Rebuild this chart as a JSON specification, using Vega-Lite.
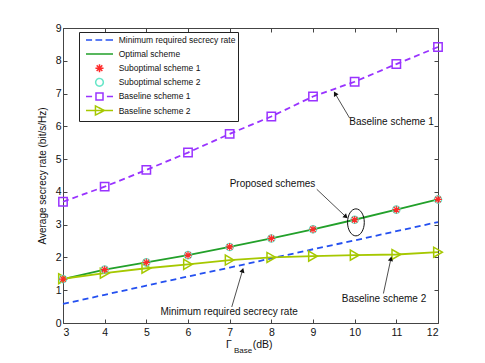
{
  "$schema": "https://vega.github.io/schema/vega-lite/v6.json",
  "width": 375,
  "height": 295,
  "autosize": {"type": "none"},
  "padding": {"left": 63, "top": 28, "right": 47, "bottom": 40},
  "background": "white",
  "config": {
    "view": {"stroke": null},
    "font": "Liberation Sans",
    "axis": {
      "domainColor": "#444",
      "tickColor": "#444",
      "tickSize": -4,
      "labelFont": "Liberation Sans",
      "labelFontSize": 10.5,
      "labelColor": "#111",
      "titleFont": "Liberation Sans",
      "titleFontSize": 10,
      "titleFontWeight": "normal",
      "titleColor": "#111",
      "grid": false
    }
  },
  "datasets": {
    "main": [
      {"x": 3, "series": "Minimum required secrecy rate", "y": 0.58},
      {"x": 4, "series": "Minimum required secrecy rate", "y": 0.86},
      {"x": 5, "series": "Minimum required secrecy rate", "y": 1.14},
      {"x": 6, "series": "Minimum required secrecy rate", "y": 1.42},
      {"x": 7, "series": "Minimum required secrecy rate", "y": 1.69},
      {"x": 8, "series": "Minimum required secrecy rate", "y": 1.97},
      {"x": 9, "series": "Minimum required secrecy rate", "y": 2.25},
      {"x": 10, "series": "Minimum required secrecy rate", "y": 2.52},
      {"x": 11, "series": "Minimum required secrecy rate", "y": 2.8},
      {"x": 12, "series": "Minimum required secrecy rate", "y": 3.08},
      {"x": 3, "series": "Optimal scheme", "y": 1.34},
      {"x": 4, "series": "Optimal scheme", "y": 1.63},
      {"x": 5, "series": "Optimal scheme", "y": 1.85},
      {"x": 6, "series": "Optimal scheme", "y": 2.07},
      {"x": 7, "series": "Optimal scheme", "y": 2.32},
      {"x": 8, "series": "Optimal scheme", "y": 2.58},
      {"x": 9, "series": "Optimal scheme", "y": 2.86},
      {"x": 10, "series": "Optimal scheme", "y": 3.15},
      {"x": 11, "series": "Optimal scheme", "y": 3.46},
      {"x": 12, "series": "Optimal scheme", "y": 3.77},
      {"x": 3, "series": "Suboptimal scheme 1", "y": 1.34},
      {"x": 4, "series": "Suboptimal scheme 1", "y": 1.63},
      {"x": 5, "series": "Suboptimal scheme 1", "y": 1.85},
      {"x": 6, "series": "Suboptimal scheme 1", "y": 2.07},
      {"x": 7, "series": "Suboptimal scheme 1", "y": 2.32},
      {"x": 8, "series": "Suboptimal scheme 1", "y": 2.58},
      {"x": 9, "series": "Suboptimal scheme 1", "y": 2.86},
      {"x": 10, "series": "Suboptimal scheme 1", "y": 3.15},
      {"x": 11, "series": "Suboptimal scheme 1", "y": 3.46},
      {"x": 12, "series": "Suboptimal scheme 1", "y": 3.77},
      {"x": 3, "series": "Suboptimal scheme 2", "y": 1.34},
      {"x": 4, "series": "Suboptimal scheme 2", "y": 1.63},
      {"x": 5, "series": "Suboptimal scheme 2", "y": 1.85},
      {"x": 6, "series": "Suboptimal scheme 2", "y": 2.07},
      {"x": 7, "series": "Suboptimal scheme 2", "y": 2.32},
      {"x": 8, "series": "Suboptimal scheme 2", "y": 2.58},
      {"x": 9, "series": "Suboptimal scheme 2", "y": 2.86},
      {"x": 10, "series": "Suboptimal scheme 2", "y": 3.15},
      {"x": 11, "series": "Suboptimal scheme 2", "y": 3.46},
      {"x": 12, "series": "Suboptimal scheme 2", "y": 3.77},
      {"x": 3, "series": "Baseline scheme 1", "y": 3.7},
      {"x": 4, "series": "Baseline scheme 1", "y": 4.16},
      {"x": 5, "series": "Baseline scheme 1", "y": 4.67},
      {"x": 6, "series": "Baseline scheme 1", "y": 5.2},
      {"x": 7, "series": "Baseline scheme 1", "y": 5.77},
      {"x": 8, "series": "Baseline scheme 1", "y": 6.3},
      {"x": 9, "series": "Baseline scheme 1", "y": 6.91},
      {"x": 10, "series": "Baseline scheme 1", "y": 7.36},
      {"x": 11, "series": "Baseline scheme 1", "y": 7.9},
      {"x": 12, "series": "Baseline scheme 1", "y": 8.42},
      {"x": 3, "series": "Baseline scheme 2", "y": 1.35},
      {"x": 4, "series": "Baseline scheme 2", "y": 1.52},
      {"x": 5, "series": "Baseline scheme 2", "y": 1.67},
      {"x": 6, "series": "Baseline scheme 2", "y": 1.79},
      {"x": 7, "series": "Baseline scheme 2", "y": 1.92},
      {"x": 8, "series": "Baseline scheme 2", "y": 2.0},
      {"x": 9, "series": "Baseline scheme 2", "y": 2.04},
      {"x": 10, "series": "Baseline scheme 2", "y": 2.07},
      {"x": 11, "series": "Baseline scheme 2", "y": 2.09},
      {"x": 12, "series": "Baseline scheme 2", "y": 2.16}
    ],
    "notes": [
      {"label": "Baseline scheme 1", "x": 9.87, "y": 6.12},
      {"label": "Proposed schemes", "x": 7.0, "y": 4.23},
      {"label": "Minimum required secrecy rate", "x": 5.34, "y": 0.34},
      {"label": "Baseline scheme 2", "x": 9.69, "y": 0.73}
    ],
    "arrows": [
      {"id": 1, "x": 9.88, "y": 6.25, "x2": 9.53, "y2": 7.0},
      {"id": 2, "x": 9.09, "y": 4.08, "x2": 9.79, "y2": 3.24},
      {"id": 3, "x": 7.05, "y": 0.49, "x2": 7.31, "y2": 1.61},
      {"id": 4, "x": 10.69, "y": 0.9, "x2": 10.87, "y2": 1.96}
    ]
  },
  "resolve": {"axis": {"x": "independent", "y": "independent"}},
  "layer": [
    {
      "data": {"name": "main"},
      "transform": [{"filter": "datum.series === 'Minimum required secrecy rate'"}],
      "mark": {"type": "line", "strokeDash": [6, 4], "strokeWidth": 1.8},
      "encoding": {
        "x": {"field": "x", "type": "quantitative", "scale": {"domain": [3, 12], "nice": false},
          "axis": {"orient": "bottom", "values": [3,4,5,6,7,8,9,10,11,12], "title": null, "labelPadding": 8}},
        "y": {"field": "y", "type": "quantitative", "scale": {"domain": [0, 9], "nice": false},
          "axis": {"orient": "left", "values": [0,1,2,3,4,5,6,7,8,9], "title": "Average secrecy rate (bit/s/Hz)", "labelPadding": 6, "titlePadding": 8}},
        "color": {"field": "series", "type": "nominal",
          "scale": {
            "domain": ["Minimum required secrecy rate", "Optimal scheme", "Suboptimal scheme 1", "Suboptimal scheme 2", "Baseline scheme 1", "Baseline scheme 2"],
            "range": ["#2450f0", "#22a02a", "#ff2a2a", "#66e6c8", "#9933ff", "#a6c800"]
          },
          "legend": {
            "orient": "none",
            "legendX": 16,
            "legendY": 4,
            "title": null,
            "padding": 2.5,
            "fillColor": "white",
            "strokeColor": "#222",
            "symbolSize": 81,
            "symbolOffset": 12.5,
            "symbolStrokeWidth": 1.5,
            "labelFont": "Liberation Sans",
            "labelFontSize": 8.5,
            "labelColor": "#111",
            "labelOffset": 13.7,
            "labelExpr": "datum.label + '        '",
            "rowPadding": -0.9,
            "encode": {
              "symbols": {
                "update": {
                  "shape": {"signal": "datum.value === 'Minimum required secrecy rate' ? 'M-3,-1M-3,1M-3,0H-1.65M-0.9,0H0.6M1.35,0H3' : datum.value === 'Optimal scheme' ? 'M-3,-1M-3,1M-3,0H3' : datum.value === 'Suboptimal scheme 1' ? 'M-3,-1M-3,1M-0.9,0H0.9M0,-0.9V0.9M-0.63,-0.63L0.63,0.63M-0.63,0.63L0.63,-0.63' : datum.value === 'Suboptimal scheme 2' ? 'M-3,-1M-3,1M-0.85,0A0.85,0.85 0 1,1 0.85,0A0.85,0.85 0 1,1 -0.85,0Z' : datum.value === 'Baseline scheme 1' ? 'M-3,-1M-3,1M-3,0H-1.65M1.65,0H3M-0.78,-0.78H0.78V0.78H-0.78Z' : 'M-3,-1M-3,1M-3,0H3M-0.9,-1L1.1,0L-0.9,1Z'"},
                  "fill": {"value": "transparent"},
                  "strokeDash": {"value": [1, 0]},
                  "strokeWidth": {"value": 1.5}
                }
              }
            }
          }
        }
      }
    },
    {
      "data": {"name": "main"},
      "transform": [{"filter": "datum.series === 'Optimal scheme'"}],
      "mark": {"type": "line", "strokeWidth": 1.8},
      "encoding": {
        "x": {"field": "x", "type": "quantitative", "axis": null},
        "y": {"field": "y", "type": "quantitative", "axis": null},
        "color": {"field": "series", "type": "nominal"}
      }
    },
    {
      "data": {"name": "main"},
      "transform": [{"filter": "datum.series === 'Baseline scheme 1'"}],
      "mark": {"type": "line", "strokeDash": [6, 4], "strokeWidth": 1.8},
      "encoding": {
        "x": {"field": "x", "type": "quantitative", "axis": null},
        "y": {"field": "y", "type": "quantitative", "axis": null},
        "color": {"field": "series", "type": "nominal"}
      }
    },
    {
      "data": {"name": "main"},
      "transform": [{"filter": "datum.series === 'Baseline scheme 1'"}],
      "mark": {"type": "point", "shape": "square", "filled": false, "size": 70, "strokeWidth": 1.5, "opacity": 1},
      "encoding": {
        "x": {"field": "x", "type": "quantitative", "axis": null},
        "y": {"field": "y", "type": "quantitative", "axis": null},
        "color": {"field": "series", "type": "nominal"}
      }
    },
    {
      "data": {"name": "main"},
      "transform": [{"filter": "datum.series === 'Baseline scheme 2'"}],
      "mark": {"type": "line", "strokeWidth": 1.8},
      "encoding": {
        "x": {"field": "x", "type": "quantitative", "axis": null},
        "y": {"field": "y", "type": "quantitative", "axis": null},
        "color": {"field": "series", "type": "nominal"}
      }
    },
    {
      "data": {"name": "main"},
      "transform": [{"filter": "datum.series === 'Baseline scheme 2'"}],
      "mark": {"type": "point", "shape": "triangle-right", "filled": false, "size": 100, "strokeWidth": 1.5, "opacity": 1},
      "encoding": {
        "x": {"field": "x", "type": "quantitative", "axis": null},
        "y": {"field": "y", "type": "quantitative", "axis": null},
        "color": {"field": "series", "type": "nominal"}
      }
    },
    {
      "data": {"name": "main"},
      "transform": [{"filter": "datum.series === 'Suboptimal scheme 2'"}],
      "mark": {"type": "point", "shape": "circle", "filled": false, "size": 55, "strokeWidth": 1.2, "opacity": 1},
      "encoding": {
        "x": {"field": "x", "type": "quantitative", "axis": null},
        "y": {"field": "y", "type": "quantitative", "axis": null},
        "color": {"field": "series", "type": "nominal"}
      }
    },
    {
      "data": {"name": "main"},
      "transform": [{"filter": "datum.series === 'Suboptimal scheme 1'"}],
      "mark": {"type": "point", "shape": "M-1,0H1M0,-1V1M-0.7,-0.7L0.7,0.7M-0.7,0.7L0.7,-0.7", "filled": false, "size": 60, "strokeWidth": 1.2, "opacity": 1},
      "encoding": {
        "x": {"field": "x", "type": "quantitative", "axis": null},
        "y": {"field": "y", "type": "quantitative", "axis": null},
        "color": {"field": "series", "type": "nominal"}
      }
    },
    {
      "data": {"name": "arrows"},
      "mark": {"type": "rule", "color": "#222", "strokeWidth": 0.8},
      "encoding": {
        "x": {"field": "x", "type": "quantitative", "axis": null},
        "y": {"field": "y", "type": "quantitative", "axis": null},
        "x2": {"field": "x2"},
        "y2": {"field": "y2"}
      }
    },
    {
      "data": {"name": "arrows"},
      "transform": [{"filter": "datum.id === 1"}],
      "mark": {"type": "point", "shape": "triangle-up", "filled": true, "color": "#111", "size": 28, "angle": 329, "opacity": 1},
      "encoding": {
        "x": {"field": "x2", "type": "quantitative", "axis": null},
        "y": {"field": "y2", "type": "quantitative", "axis": null}
      }
    },
    {
      "data": {"name": "arrows"},
      "transform": [{"filter": "datum.id === 2"}],
      "mark": {"type": "point", "shape": "triangle-up", "filled": true, "color": "#111", "size": 28, "angle": 133, "opacity": 1},
      "encoding": {
        "x": {"field": "x2", "type": "quantitative", "axis": null},
        "y": {"field": "y2", "type": "quantitative", "axis": null}
      }
    },
    {
      "data": {"name": "arrows"},
      "transform": [{"filter": "datum.id === 3"}],
      "mark": {"type": "point", "shape": "triangle-up", "filled": true, "color": "#111", "size": 28, "angle": 17, "opacity": 1},
      "encoding": {
        "x": {"field": "x2", "type": "quantitative", "axis": null},
        "y": {"field": "y2", "type": "quantitative", "axis": null}
      }
    },
    {
      "data": {"name": "arrows"},
      "transform": [{"filter": "datum.id === 4"}],
      "mark": {"type": "point", "shape": "triangle-up", "filled": true, "color": "#111", "size": 28, "angle": 12, "opacity": 1},
      "encoding": {
        "x": {"field": "x2", "type": "quantitative", "axis": null},
        "y": {"field": "y2", "type": "quantitative", "axis": null}
      }
    },
    {
      "data": {"name": "notes"},
      "mark": {"type": "text", "align": "left", "baseline": "middle", "font": "Liberation Sans", "fontSize": 10, "color": "#111"},
      "encoding": {
        "x": {"field": "x", "type": "quantitative", "axis": null},
        "y": {"field": "y", "type": "quantitative", "axis": null},
        "text": {"field": "label"}
      }
    },
    {
      "data": {"values": [{"x": 10.03, "y": 3.07}]},
      "mark": {"type": "point", "shape": "M0,-1A0.62,1 0 1,1 0,1A0.62,1 0 1,1 0,-1Z", "filled": false, "color": "#111", "size": 729, "strokeWidth": 1, "opacity": 1},
      "encoding": {
        "x": {"field": "x", "type": "quantitative", "axis": {"orient": "top", "values": [3,4,5,6,7,8,9,10,11,12], "labels": false, "title": null}},
        "y": {"field": "y", "type": "quantitative", "axis": {"orient": "right", "values": [0,1,2,3,4,5,6,7,8,9], "labels": false, "title": null}}
      }
    },
    {
      "data": {"values": [{"t": "Γ", "x": 6.98}, {"t": "(dB)", "x": 7.79}]},
      "mark": {"type": "text", "align": "center", "baseline": "middle", "dy": 22, "font": "Liberation Sans", "fontSize": 10.5, "color": "#111"},
      "encoding": {
        "x": {"field": "x", "type": "quantitative", "axis": null},
        "y": {"datum": 0, "type": "quantitative", "axis": null},
        "text": {"field": "t"}
      }
    },
    {
      "data": {"values": [{"t": "Base", "x": 7.32}]},
      "mark": {"type": "text", "align": "center", "baseline": "middle", "dy": 28, "font": "Liberation Sans", "fontSize": 8, "color": "#111"},
      "encoding": {
        "x": {"field": "x", "type": "quantitative", "axis": null},
        "y": {"datum": 0, "type": "quantitative", "axis": null},
        "text": {"field": "t"}
      }
    }
  ]
}
